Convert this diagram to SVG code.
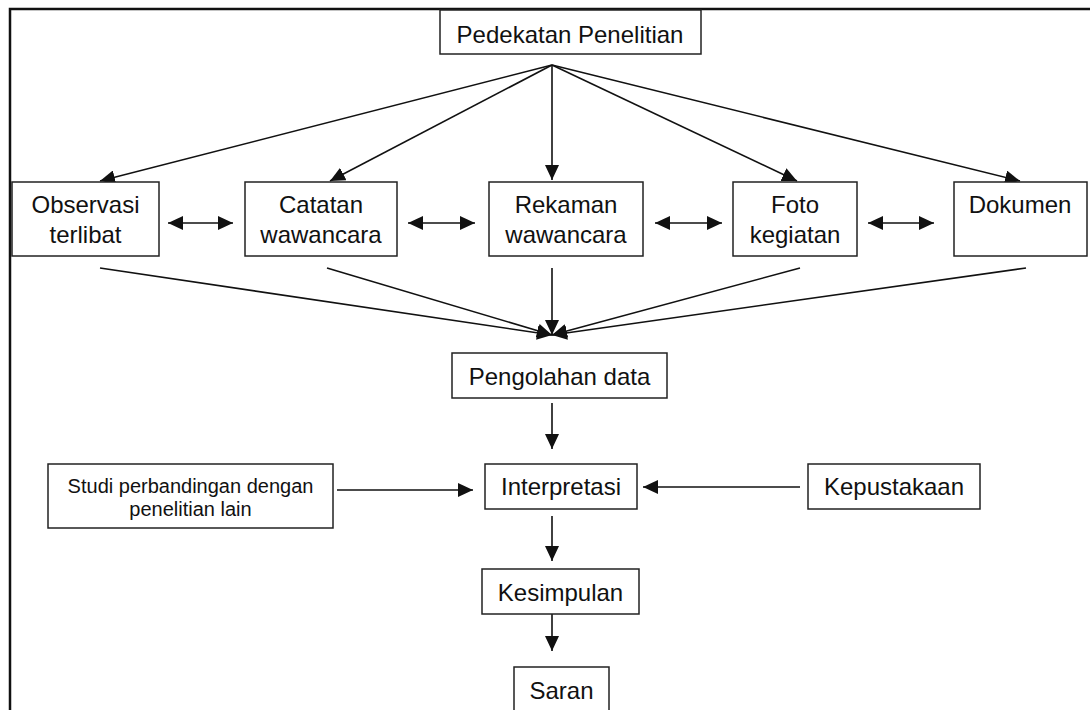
<svg xmlns="http://www.w3.org/2000/svg" width="1090" height="710" viewBox="0 0 1090 710">
<style>
.box{fill:#fff;stroke:#222;stroke-width:1.5}
.t{font-family:"Liberation Sans",Arial,sans-serif;font-size:24px;fill:#111;text-anchor:middle}
.s{font-size:20px}
.c{stroke:#111;stroke-width:1.6;fill:none}
.frame{stroke:#111;stroke-width:2.5;fill:none}
</style>
<defs>
<marker id="ah" markerUnits="userSpaceOnUse" markerWidth="16" markerHeight="14" refX="15" refY="7" orient="auto-start-reverse">
<path d="M0,0 L15,7 L0,14 Z" fill="#111"/>
</marker>
</defs>
<rect width="1090" height="710" fill="#fff"/>
<path class="frame" d="M10,710 L10,9 L1090,9"/>
<g id="connectors">
<line class="c" x1="552" y1="65" x2="100" y2="181" marker-end="url(#ah)"/>
<line class="c" x1="552" y1="65" x2="330" y2="181" marker-end="url(#ah)"/>
<line class="c" x1="552" y1="65" x2="552" y2="180" marker-end="url(#ah)"/>
<line class="c" x1="552" y1="65" x2="797" y2="181" marker-end="url(#ah)"/>
<line class="c" x1="552" y1="65" x2="1020" y2="181" marker-end="url(#ah)"/>
<line class="c" x1="168" y1="223" x2="233" y2="223" marker-start="url(#ah)" marker-end="url(#ah)"/>
<line class="c" x1="408" y1="223" x2="475" y2="223" marker-start="url(#ah)" marker-end="url(#ah)"/>
<line class="c" x1="655" y1="223" x2="722" y2="223" marker-start="url(#ah)" marker-end="url(#ah)"/>
<line class="c" x1="868" y1="223" x2="934" y2="223" marker-start="url(#ah)" marker-end="url(#ah)"/>
<line class="c" x1="100" y1="268" x2="552" y2="335" marker-end="url(#ah)"/>
<line class="c" x1="327" y1="268" x2="552" y2="335" marker-end="url(#ah)"/>
<line class="c" x1="552" y1="268" x2="552" y2="335" marker-end="url(#ah)"/>
<line class="c" x1="800" y1="268" x2="552" y2="335" marker-end="url(#ah)"/>
<line class="c" x1="1026" y1="268" x2="552" y2="335" marker-end="url(#ah)"/>
<line class="c" x1="552" y1="403" x2="552" y2="449" marker-end="url(#ah)"/>
<line class="c" x1="337" y1="490" x2="473" y2="490" marker-end="url(#ah)"/>
<line class="c" x1="800" y1="487" x2="643" y2="487" marker-end="url(#ah)"/>
<line class="c" x1="552" y1="516" x2="552" y2="561" marker-end="url(#ah)"/>
<line class="c" x1="552" y1="607" x2="552" y2="651" marker-end="url(#ah)"/>
</g>
<g id="pedekatan"><rect class="box" x="440" y="10" width="261" height="44"/><text class="t" x="570" y="43">Pedekatan Penelitian</text></g>
<g id="observasi"><rect class="box" x="12" y="182" width="147" height="74"/><text class="t" x="85.5" y="213">Observasi</text><text class="t" x="85.5" y="243">terlibat</text></g>
<g id="catatan"><rect class="box" x="245" y="182" width="152" height="74"/><text class="t" x="321" y="213">Catatan</text><text class="t" x="321" y="243">wawancara</text></g>
<g id="rekaman"><rect class="box" x="489" y="182" width="154" height="74"/><text class="t" x="566" y="213">Rekaman</text><text class="t" x="566" y="243">wawancara</text></g>
<g id="foto"><rect class="box" x="733" y="182" width="124" height="74"/><text class="t" x="795" y="213">Foto</text><text class="t" x="795" y="243">kegiatan</text></g>
<g id="dokumen"><rect class="box" x="954" y="182" width="133" height="74"/><text class="t" x="1020" y="213">Dokumen</text></g>
<g id="pengolahan"><rect class="box" x="452" y="353" width="215" height="45"/><text class="t" x="559.5" y="385">Pengolahan data</text></g>
<g id="studi"><rect class="box" x="48" y="464" width="285" height="64"/><text class="t s" x="190.5" y="493">Studi perbandingan dengan</text><text class="t s" x="190.5" y="516">penelitian lain</text></g>
<g id="interpretasi"><rect class="box" x="485" y="464" width="152" height="45"/><text class="t" x="561" y="495">Interpretasi</text></g>
<g id="kepustakaan"><rect class="box" x="808" y="464" width="172" height="45"/><text class="t" x="894" y="495">Kepustakaan</text></g>
<g id="kesimpulan"><rect class="box" x="482" y="569" width="157" height="45"/><text class="t" x="560.5" y="601">Kesimpulan</text></g>
<g id="saran"><rect class="box" x="514" y="667" width="95" height="60"/><text class="t" x="561.5" y="699">Saran</text></g>
</svg>
